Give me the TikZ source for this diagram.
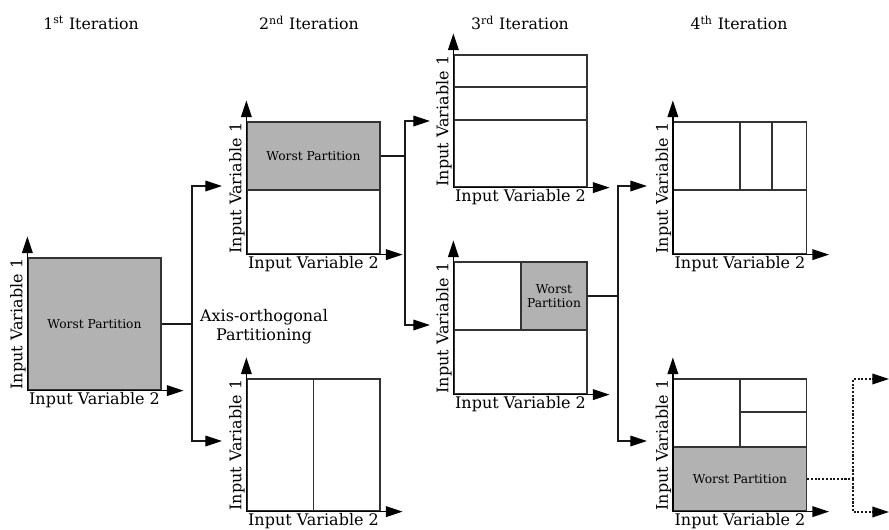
\documentclass[tikz,border=0pt]{standalone}
\usepackage{fontspec}
\setmainfont{DejaVu Serif}
\usetikzlibrary{arrows.meta}
\begin{document}
\begin{tikzpicture}[x=0.75pt,y=-0.75pt,
  ln/.style={draw=black!80, line width=0.9pt},
  tip/.style={-{Triangle[length=12.5pt,width=8pt,fill=black,color=black]}},
  arr/.style={draw=black!90, line width=0.9pt, tip},
  dotted line/.style={draw=black!90, line width=1pt, dash pattern=on 1.6pt off 1.2pt},
  dotarr/.style={dotted line, tip},
  axis/.style={draw=black, line width=1pt, tip},
  box/.style={ln, rectangle, inner sep=0pt, minimum width=99.75pt, minimum height=99pt},
  worst/.style={ln, rectangle, fill=black!30, inner sep=0pt, font=\fontsize{9.2pt}{10.8pt}\selectfont, align=center},
  lab/.style={font=\fontsize{12pt}{14pt}\selectfont, inner sep=1pt},
  ttl/.style={font=\fontsize{11.8pt}{14pt}\selectfont, inner sep=0pt}
]
\useasboundingbox (0,0) rectangle (889,529);

% titles
\node[ttl] (t1) at (91,23) {1\textsuperscript{st} Iteration};
\node[ttl] (t2) at (309,23) {2\textsuperscript{nd} Iteration};
\node[ttl] (t3) at (520,23) {3\textsuperscript{rd} Iteration};
\node[ttl] (t4) at (739,23) {4\textsuperscript{th} Iteration};

% ---------- boxes ----------
% box 1
\node[box] (b1) at (94.5,324) {};
\node[worst, minimum width=99.75pt, minimum height=99pt] (w1) at (94.5,324) {Worst Partition};
% box 2a
\node[box] (b2a) at (313.5,188) {};
\node[worst, minimum width=99.75pt, minimum height=51pt] (w2) at (313.5,156) {Worst Partition};
% box 2b
\node[box] (b2b) at (313.5,445) {};
\draw[ln] (b2b.north) -- (b2b.south);
% box 3a
\node[box] (b3a) at (520.5,121) {};
\draw[ln] (454,87) -- (587,87);
\draw[ln] (454,120) -- (587,120);
% box 3b
\node[box] (b3b) at (520.5,328) {};
\draw[ln] (454,330) -- (587,330);
\node[worst, minimum width=49.5pt, minimum height=51pt] (w3) at (554,296) {Worst\\Partition};
% box 4a
\node[box] (b4a) at (740,188) {};
\draw[ln] (673,190) -- (807,190);
\draw[ln] (740,122) -- (740,190);
\draw[ln] (772,122) -- (772,190);
% box 4b
\node[box] (b4b) at (740,445) {};
\draw[ln] (740,379) -- (740,447);
\draw[ln] (740,412) -- (807,412);
\node[worst, minimum width=99.75pt, minimum height=48pt] (w4) at (740,479) {Worst Partition};

% ---------- axes and labels ----------
\foreach \b in {b1,b2a,b2b,b3a,b3b,b4a,b4b}{
  \draw[axis] (\b.south west) -- ([yshift=21*0.75pt]\b.north west);
  \draw[axis] (\b.south west) -- ([xshift=22*0.75pt]\b.south east);
  \node[lab, rotate=90, anchor=south] (\b y) at (\b.west) {Input Variable 1};
  \node[lab, anchor=north] (\b x) at (\b.south) {Input Variable 2};
}

% ---------- connectors ----------
\node[lab, align=center, font=\fontsize{12pt}{14.5pt}\selectfont] (aop) at (264,327) {Axis-orthogonal\\Partitioning};

\coordinate (j1) at (192,324);
\coordinate (e1a) at (222,186);
\coordinate (e1b) at (222,441);
\draw[arr, -] (w1.east) -- (j1);
\draw[arr] (j1) |- (e1a);
\draw[arr] (j1) |- (e1b);

\coordinate (j2) at (405,156);
\coordinate (e2a) at (430,121);
\coordinate (e2b) at (430,325);
\draw[arr, -] (w2.east) -- (j2);
\draw[arr] (j2) |- (e2a);
\draw[arr] (j2) |- (e2b);

\coordinate (j3) at (618,296);
\coordinate (e3a) at (647,186);
\coordinate (e3b) at (647,441);
\draw[arr, -] (w3.east) -- (j3);
\draw[arr] (j3) |- (e3a);
\draw[arr] (j3) |- (e3b);

\coordinate (j4) at (853,479);
\coordinate (e4a) at (889,379);
\coordinate (e4b) at (889,512);
\draw[dotted line] (w4.east) -- (j4);
\draw[dotarr] (j4) |- (e4a);
\draw[dotarr] (j4) |- (e4b);
\end{tikzpicture}
\end{document}
